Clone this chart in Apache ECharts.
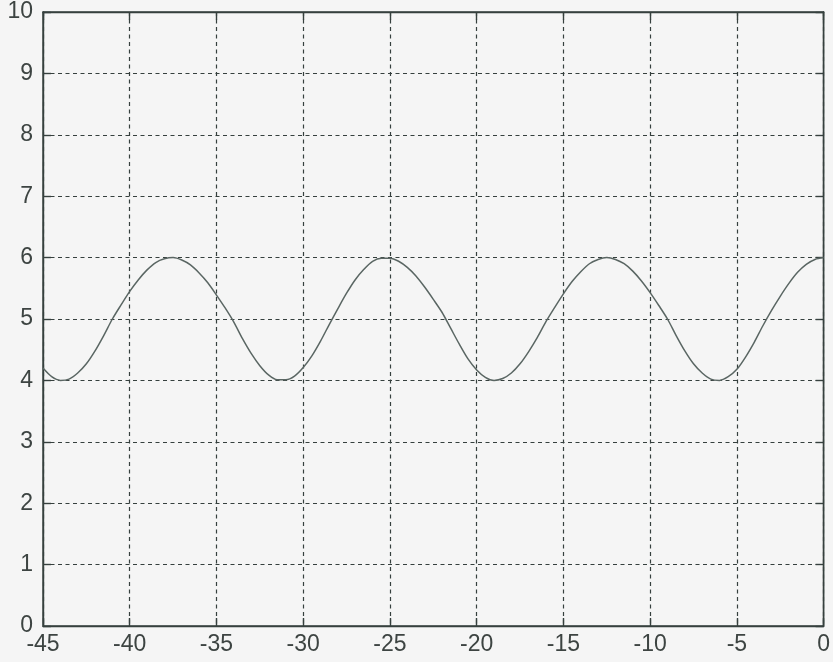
<!DOCTYPE html>
<html>
<head>
<meta charset="utf-8">
<script src="https://cdn.jsdelivr.net/npm/echarts@6/dist/echarts.min.js"></script>
<style>
html,body{margin:0;padding:0;background:#f5f5f5;}
#c{width:833px;height:662px;}
</style>
</head>
<body>
<div id="c"></div>
<script>
const xValues = [-45,-44.5,-44,-43.5,-43,-42.5,-42,-41.5,-41,-40.5,-40,-39.5,-39,-38.5,-38,-37.5,-37,-36.5,-36,-35.5,-35,-34.5,-34,-33.5,-33,-32.5,-32,-31.5,-31,-30.5,-30,-29.5,-29,-28.5,-28,-27.5,-27,-26.5,-26,-25.5,-25,-24.5,-24,-23.5,-23,-22.5,-22,-21.5,-21,-20.5,-20,-19.5,-19,-18.5,-18,-17.5,-17,-16.5,-16,-15.5,-15,-14.5,-14,-13.5,-13,-12.5,-12,-11.5,-11,-10.5,-10,-9.5,-9,-8.5,-8,-7.5,-7,-6.5,-6,-5.5,-5,-4.5,-4,-3.5,-3,-2.5,-2,-1.5,-1,-0.5,0];
const yValues = [4.20,4.06,4.00,4.02,4.12,4.27,4.48,4.73,5.00,5.23,5.45,5.64,5.80,5.92,5.98,6.00,5.96,5.88,5.75,5.59,5.39,5.18,4.95,4.68,4.44,4.24,4.09,4.01,4.01,4.07,4.21,4.40,4.64,4.91,5.17,5.42,5.64,5.81,5.94,5.99,5.99,5.94,5.84,5.70,5.52,5.32,5.11,4.85,4.59,4.35,4.17,4.05,4.00,4.03,4.12,4.27,4.47,4.70,4.96,5.19,5.41,5.61,5.77,5.90,5.97,6.00,5.97,5.90,5.78,5.62,5.43,5.22,5.00,4.73,4.48,4.27,4.12,4.02,4.00,4.06,4.18,4.38,4.62,4.89,5.14,5.37,5.58,5.76,5.89,5.97,6.00];
const xTicks = [-45,-40,-35,-30,-25,-20,-15,-10,-5,0];
const yTicks = [0,1,2,3,4,5,6,7,8,9,10];

const points = xValues.map((x, i) => [x, yValues[i]]);
const axisColor = '#36403e';
const font = 'Liberation Sans';

const chart = echarts.init(document.getElementById('c'), null, {renderer: 'canvas'});
const dashed = {show: true, lineStyle: {color: axisColor, width: 1.2, type: [4, 3.5]}};
chart.setOption({
  backgroundColor: '#f5f5f5',
  animation: false,
  grid: {left: 43, right: 3, top: 12, bottom: 36, show: true, borderColor: axisColor, borderWidth: 1.4, backgroundColor: 'transparent'},
  xAxis: [{
    type: 'value', min: xTicks[0], max: xTicks[xTicks.length - 1], interval: 5, position: 'bottom',
    axisLine: {show: true, onZero: false, lineStyle: {color: axisColor, width: 1.4}},
    axisTick: {show: true, inside: true, length: 8, lineStyle: {color: axisColor, width: 1.4}},
    axisLabel: {color: '#3d4442', fontFamily: font, fontSize: 23, margin: 7, showMaxLabel: true, showMinLabel: true},
    splitLine: dashed
  }, {
    type: 'value', min: xTicks[0], max: xTicks[xTicks.length - 1], interval: 5, position: 'top',
    axisLine: {show: true, onZero: false, lineStyle: {color: axisColor, width: 1.4}},
    axisTick: {show: true, inside: true, length: 8, lineStyle: {color: axisColor, width: 1.4}},
    axisLabel: {show: false}, splitLine: {show: false}
  }],
  yAxis: [{
    type: 'value', min: yTicks[0], max: yTicks[yTicks.length - 1], interval: 1, position: 'left',
    axisLine: {show: true, onZero: false, lineStyle: {color: axisColor, width: 1.4}},
    axisTick: {show: true, inside: true, length: 8, lineStyle: {color: axisColor, width: 1.4}},
    axisLabel: {color: '#3d4442', fontFamily: font, fontSize: 23, margin: 10},
    splitLine: dashed
  }, {
    type: 'value', min: yTicks[0], max: yTicks[yTicks.length - 1], interval: 1, position: 'right',
    axisLine: {show: true, onZero: false, lineStyle: {color: axisColor, width: 1.4}},
    axisTick: {show: true, inside: true, length: 8, lineStyle: {color: axisColor, width: 1.4}},
    axisLabel: {show: false}, splitLine: {show: false}
  }],
  series: [{
    type: 'line', data: points, xAxisIndex: 0, yAxisIndex: 0,
    showSymbol: false, smooth: 0.3,
    lineStyle: {color: '#5a6663', width: 1.5},
    clip: true
  }]
});
</script>
</body>
</html>
